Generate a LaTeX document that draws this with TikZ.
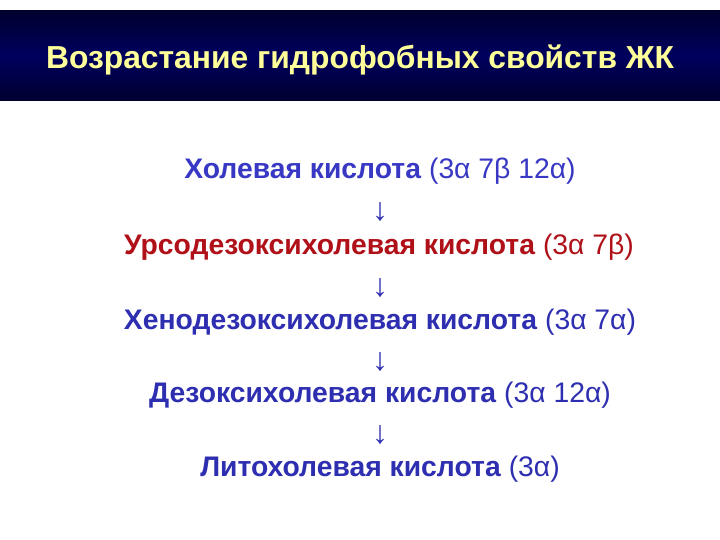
\documentclass[tikz,border=0pt]{standalone}
\usepackage{fontspec}
\setmainfont{Liberation Sans}
\definecolor{bandedge}{HTML}{000030}
\definecolor{bandmid}{HTML}{00005E}
\definecolor{titleyellow}{HTML}{FFFF99}
\definecolor{acidblue}{HTML}{2E2EB0}
\definecolor{acidblueA}{HTML}{3838C4}
\definecolor{acidred}{HTML}{B01018}
\tikzset{
  acid/.style={anchor=center, inner sep=0pt, font=\fontsize{28.3}{32}\selectfont},
  arrowglyph/.style={anchor=center, inner sep=0pt, font=\fontsize{32}{36}\selectfont, text=acidblue},
}
\begin{document}
\begin{tikzpicture}[x=1pt,y=-1pt]
\useasboundingbox (0,0) rectangle (720,540);
\fill[white] (0,0) rectangle (720,540);
\shade[top color=bandedge, bottom color=bandmid] (0,11) rectangle (720,56);
\shade[top color=bandmid, bottom color=bandedge] (0,56) rectangle (720,101);
\node[anchor=center, inner sep=0pt, text=titleyellow, font=\fontsize{31.8}{36}\selectfont\bfseries] (title) at (360,60) {Возрастание гидрофобных свойств ЖК};
\node[acid, text=acidblueA] (l1) at (380,171) {\textbf{Холевая кислота} (3α 7β 12α)};
\node[arrowglyph] (a1) at (380,212) {↓};
\node[acid, text=acidred] (l2) at (379,247) {\textbf{Урсодезоксихолевая кислота} (3α 7β)};
\node[arrowglyph] (a2) at (380,288) {↓};
\node[acid, text=acidblue] (l3) at (380,322) {\textbf{Хенодезоксихолевая кислота} (3α 7α)};
\node[arrowglyph] (a3) at (380,362) {↓};
\node[acid, text=acidblue] (l4) at (380,395) {\textbf{Дезоксихолевая кислота} (3α 12α)};
\node[arrowglyph] (a4) at (380,435) {↓};
\node[acid, text=acidblue] (l5) at (380,469) {\textbf{Литохолевая кислота} (3α)};
\end{tikzpicture}
\end{document}
